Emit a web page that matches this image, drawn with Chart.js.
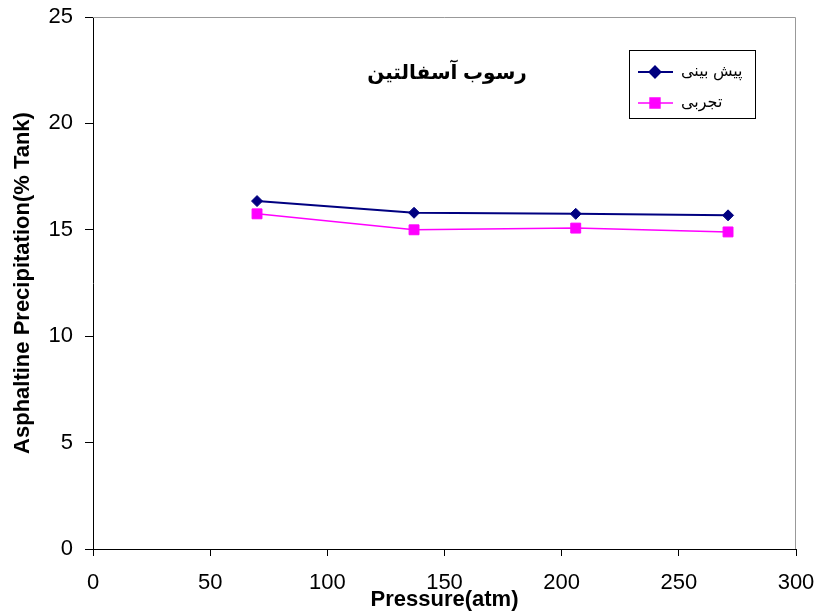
<!DOCTYPE html>
<html lang="fa">
<head>
<meta charset="UTF-8">
<title>رسوب آسفالتین</title>
<script src="https://cdn.jsdelivr.net/npm/chart.js"></script>
<style>
  body { margin: 0; background: #fff; }
</style>
</head>
<body>
<canvas id="chart" width="817" height="615"></canvas>
<script>
// values
const pressure = [70, 137, 206, 271];
const predicted = [16.35, 15.8, 15.75, 15.68];
const measured = [15.75, 15.0, 15.08, 14.9];
const seriesNames = ['پیش بینی', 'تجربی'];
const xTicks = [0, 50, 100, 150, 200, 250, 300];
const yTicks = [0, 5, 10, 15, 20, 25];
const chartTitle = 'رسوب آسفالتین';
const xTitle = 'Pressure(atm)';
const yTitle = 'Asphaltine Precipitation(% Tank)';

const FONT = '"Liberation Sans", Arial, "DejaVu Sans", sans-serif';

function points(ys) {
    return pressure.map((x, i) => ({ x: x, y: ys[i] }));
}

// keep the plot area where the reference has it: no extra room for edge labels
function fixSize(prop, size) {
    return s => {
        s[prop] = size;
        s.paddingLeft = s.paddingRight = s.paddingTop = s.paddingBottom = 0;
    };
}

// grey plot-area frame on top and right (left/bottom are the axes)
const frame = {
    id: 'frame',
    beforeDatasetsDraw(chart) {
        const a = chart.chartArea;
        const ctx = chart.ctx;
        ctx.save();
        ctx.strokeStyle = '#999';
        ctx.lineWidth = 1;
        ctx.beginPath();
        ctx.moveTo(a.left, a.top + 0.5);
        ctx.lineTo(a.right - 0.5, a.top + 0.5);
        ctx.lineTo(a.right - 0.5, a.bottom);
        ctx.stroke();
        ctx.restore();
    }
};

// chart title and boxed legend sit inside the plot area, as in Excel
const overlay = {
    id: 'overlay',
    afterDatasetsDraw(chart) {
        const ctx = chart.ctx;
        ctx.save();
        ctx.fillStyle = '#000';
        ctx.font = 'bold 20px ' + FONT;
        ctx.textAlign = 'center';
        ctx.textBaseline = 'middle';
        ctx.fillText(chartTitle, 447, 73);

        ctx.strokeStyle = '#000';
        ctx.lineWidth = 1;
        ctx.strokeRect(629.5, 50.5, 126, 68);
        chart.data.datasets.forEach((ds, i) => {
            const y = 72 + i * 31;
            ctx.strokeStyle = ds.borderColor;
            ctx.lineWidth = ds.borderWidth;
            ctx.beginPath();
            ctx.moveTo(638, y);
            ctx.lineTo(673, y);
            ctx.stroke();
            ctx.fillStyle = ds.pointBackgroundColor;
            ctx.strokeStyle = ds.pointBorderColor;
            Chart.helpers.drawPoint(ctx, {
                pointStyle: ds.pointStyle, radius: ds.pointRadius, borderWidth: 1, rotation: 0
            }, 655, y);
            ctx.fillStyle = '#000';
            ctx.font = '16px ' + FONT;
            ctx.textAlign = 'left';
            ctx.fillText(ds.label, 681, y);
        });
        ctx.restore();
    }
};

const tickFont = { family: FONT, size: 22 };
const titleFont = { family: FONT, size: 22, weight: 'bold' };

const ctx = document.getElementById('chart').getContext('2d');
new Chart(ctx, {
    type: 'line',
    data: {
        datasets: [{
            label: seriesNames[0],
            data: points(predicted),
            borderColor: '#000080',
            backgroundColor: '#000080',
            borderWidth: 2,
            pointStyle: 'rectRot',
            pointRadius: 5.5,
            pointBackgroundColor: '#000080',
            pointBorderColor: '#000080',
            pointBorderWidth: 1,
            tension: 0
        }, {
            label: seriesNames[1],
            data: points(measured),
            borderColor: '#ff00ff',
            backgroundColor: '#ff00ff',
            borderWidth: 1.5,
            pointStyle: 'rect',
            pointRadius: 7,
            pointBackgroundColor: '#ff00ff',
            pointBorderColor: '#ff00ff',
            pointBorderWidth: 1,
            tension: 0
        }]
    },
    options: {
        responsive: false,
        animation: false,
        layout: { autoPadding: false, padding: { left: 0, top: 17, right: 21, bottom: 0 } },
        plugins: {
            legend: { display: false },
            title: { display: false },
            tooltip: { enabled: false }
        },
        scales: {
            x: {
                type: 'linear',
                min: 0,
                max: 300,
                afterFit: fixSize('height', 66),
                afterBuildTicks: s => { s.ticks = xTicks.map(v => ({ value: v })); },
                ticks: {
                    color: '#000',
                    font: tickFont,
                    padding: 14,
                    maxRotation: 0,
                    autoSkip: false
                },
                grid: {
                    drawOnChartArea: false,
                    drawTicks: true,
                    tickLength: 7,
                    color: '#000'
                },
                border: { display: true, color: '#000', width: 1 },
                title: {
                    display: true,
                    text: xTitle,
                    color: '#000',
                    font: titleFont,
                    padding: { top: 0, bottom: 2 }
                }
            },
            y: {
                min: 0,
                max: 25,
                afterFit: fixSize('width', 93),
                afterBuildTicks: s => { s.ticks = yTicks.map(v => ({ value: v })); },
                ticks: {
                    color: '#000',
                    font: tickFont,
                    padding: 12
                },
                grid: {
                    drawOnChartArea: false,
                    drawTicks: true,
                    tickLength: 8,
                    color: '#000'
                },
                border: { display: true, color: '#000', width: 1 },
                title: {
                    display: true,
                    text: yTitle,
                    color: '#000',
                    font: titleFont,
                    padding: { top: 10, bottom: 0 }
                }
            }
        }
    },
    plugins: [frame, overlay]
});
</script>
</body>
</html>
